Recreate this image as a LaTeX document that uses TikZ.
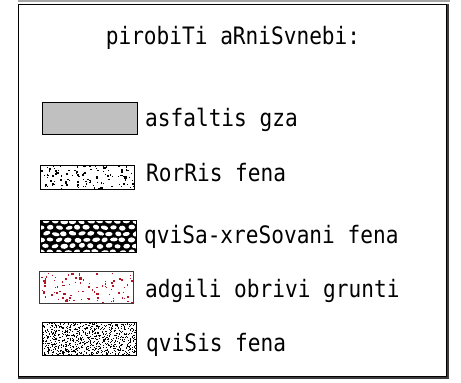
\documentclass[tikz,border=0pt]{standalone}
\usepackage{fontspec}
\newfontfamily\legfont[FakeStretch=0.88]{DejaVu Sans Mono}
\definecolor{boxgray}{RGB}{192,192,192}
\definecolor{dotred}{RGB}{178,20,35}
\definecolor{shadow}{RGB}{60,60,60}
\begin{document}
\begin{tikzpicture}[x=1pt,y=-1pt,
  legtext/.style={anchor=base west,inner sep=0pt,font=\legfont\fontsize{24}{24}\selectfont},
  titletext/.style={anchor=base,inner sep=0pt,font=\legfont\fontsize{24}{24}\selectfont},
  keybox/.style={draw=black,line width=0.9pt}]
\useasboundingbox (0,0) rectangle (461,383);
\fill[white] (0,0) rectangle (461,383);
% frame
\draw[gray!70,line width=1.5pt] (18,1) -- (450,1);
\draw[shadow,line width=2pt] (448,4) -- (448,378) -- (18,378);
\draw[black,line width=1pt] (18,4) rectangle (446.5,376.5);
% title
\node[titletext] (title) at (233,44) {pirobiTi aRniSvnebi:};
% box 1: asphalt
\node[keybox,fill=boxgray,minimum width=95pt,minimum height=32pt,inner sep=0pt,anchor=north west] (b1) at (42,102) {};
% box 2: sparse black dots
\begin{scope}
\clip (40,165) rectangle (134,189);
\pgfmathsetseed{7}
\foreach \i in {1,...,110}{
  \pgfmathsetmacro\px{40+94*frac(\i*0.6180340+0.3*rnd)}
  \pgfmathsetmacro\py{165+24*frac(\i*0.7548777+0.2*rnd)}
  \pgfmathsetmacro\ps{1.1+1.6*rnd*rnd}
  \fill[black] (\px,\py) rectangle ++(\ps,\ps);
}
\end{scope}
\node[keybox,minimum width=94pt,minimum height=24pt,inner sep=0pt,anchor=north west] (b2) at (40,165) {};
% box 3: cobbles
\begin{scope}
\clip (40,220) rectangle (136,252);
\fill[black] (40,220) rectangle (136,252);
\pgfmathsetseed{11}
\foreach \r in {0,...,5}{
  \foreach \c in {0,...,11}{
    \pgfmathsetmacro\cx{37+\c*9+mod(\r,2)*4.5+(rnd-0.5)*1.6}
    \pgfmathsetmacro\cy{221.5+\r*6.1+(rnd-0.5)*1.2}
    \pgfmathsetmacro\rx{3.0+rnd*1.0}
    \pgfmathsetmacro\ry{1.9+rnd*0.7}
    \pgfmathsetmacro\ang{(rnd-0.5)*40}
    \fill[white,rotate around={\ang:(\cx,\cy)}] (\cx,\cy) ellipse [x radius=\rx pt,y radius=\ry pt];
  }
}
\end{scope}
\node[keybox,minimum width=96pt,minimum height=32pt,inner sep=0pt,anchor=north west] (b3) at (40,220) {};
% box 4: red dots
\begin{scope}
\clip (39,271) rectangle (133,303);
\pgfmathsetseed{23}
\foreach \i in {1,...,90}{
  \pgfmathsetmacro\px{40+92*frac(\i*0.6180340+0.25*rnd)}
  \pgfmathsetmacro\py{272+30*frac(\i*0.7548777+0.2*rnd)}
  \pgfmathsetmacro\ps{1.1+2.0*rnd*rnd}
  \fill[dotred] (\px,\py) rectangle ++(\ps,\ps);
}
\end{scope}
\node[draw=shadow,line width=0.9pt,minimum width=94pt,minimum height=32pt,inner sep=0pt,anchor=north west] (b4) at (39,271) {};
% box 5: dense dots
\begin{scope}
\clip (42,322) rectangle (136,355);
\pgfmathsetseed{5}
\foreach \i in {1,...,700}{
  \pgfmathsetmacro\px{42+94*frac(\i*0.5698403+0.05*rnd)}
  \pgfmathsetmacro\py{322+33*frac(\i*0.3247179+0.08*rnd)}
  \fill[black] (\px,\py) rectangle ++(1.1,1.1);
}
\end{scope}
\node[keybox,minimum width=94pt,minimum height=33pt,inner sep=0pt,anchor=north west] (b5) at (42,322) {};
% labels
\node[legtext] (l1) at (145,126) {asfaltis gza};
\node[legtext] (l2) at (146,181) {RorRis fena};
\node[legtext] (l3) at (144,243) {qviSa-xreSovani fena};
\node[legtext] (l4) at (145,297) {adgili obrivi grunti};
\node[legtext] (l5) at (146,351) {qviSis fena};
\end{tikzpicture}
\end{document}
